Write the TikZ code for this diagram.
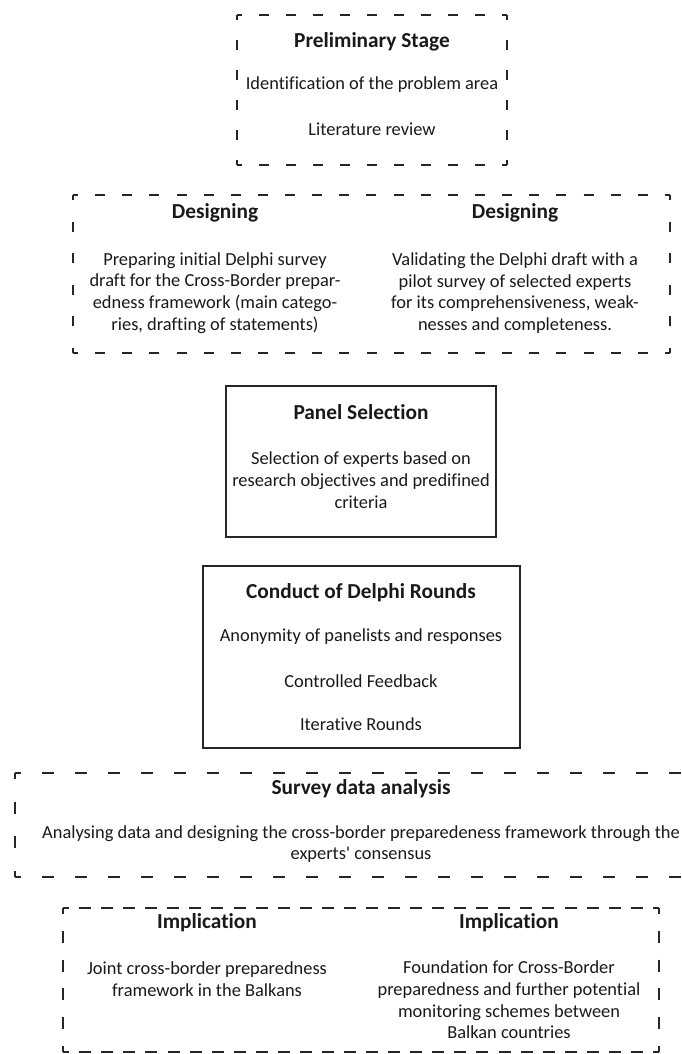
\documentclass[tikz,border=0pt]{standalone}
\usepackage{fontspec}
\setmainfont{Carlito}[Ligatures={TeXOff,NoCommon}]
\usetikzlibrary{positioning}

\begin{document}
\begin{tikzpicture}[x=0.75pt,y=-0.75pt,
    thin/.style={line width=0.8pt, color=black!85},
    thick/.style={line width=1.5pt, color=black!85},
    dashside/.style n args={3}{dash pattern=on #1 off #2, dash phase=#3},
    head/.style={font=\fontsize{16}{19}\selectfont\bfseries, text=black!90, inner sep=0pt},
    body/.style={font=\fontsize{13.8}{16.3}\selectfont, text=black!90, align=center, inner sep=0pt}]
    \useasboundingbox (0,0) rectangle (682,1054);

    % Preliminary stage
    \draw[thin, dashside={7.5pt}{12.75pt}{3.75pt}] (237,15) -- (507,15);
    \draw[thin, dashside={7.5pt}{15pt}{3.75pt}] (507,15) -- (507,165);
    \draw[thin, dashside={7.5pt}{12.75pt}{3.75pt}] (507,165) -- (237,165);
    \draw[thin, dashside={7.5pt}{15pt}{3.75pt}] (237,165) -- (237,15);
    \node[head] (prelimhead) at (372,42) {Preliminary Stage};
    \node[body] (prelimid) at (372,85) {Identification of the problem area};
    \node[body] (prelimlit) at (372,129) {Literature review};

    % Designing
    \draw[thin, dashside={7.5pt}{12.85pt}{3.75pt}] (73,195) -- (670,195);
    \draw[thin, dashside={7.5pt}{16.2pt}{3.75pt}] (670,195) -- (670,353);
    \draw[thin, dashside={7.5pt}{12.85pt}{3.75pt}] (670,353) -- (73,353);
    \draw[thin, dashside={7.5pt}{16.2pt}{3.75pt}] (73,353) -- (73,195);
    \node[head] (designhead1) at (215,213) {Designing};
    \node[head] (designhead2) at (515,213) {Designing};
    \node[body] (designtext1) at (215,293) {Preparing initial Delphi survey\\draft for the Cross-Border prepar-\\edness framework (main catego-\\ries, drafting of statements)};
    \node[body] (designtext2) at (515,293) {Validating the Delphi draft with a\\pilot survey of selected experts\\for its comprehensiveness, weak-\\nesses and completeness.};

    % Panel selection
    \draw[thin] (226,386) rectangle (496,537);
    \node[head] (panelhead) at (361,412) {Panel Selection};
    \node[body] (paneltext) at (361,480) {Selection of experts based on\\research objectives and predifined\\criteria};

    % Delphi rounds
    \draw[thin] (203,566) rectangle (520,748);
    \node[head] (roundshead) at (361,593) {Conduct of Delphi Rounds};
    \node[body] (roundsanon) at (361,637) {Anonymity of panelists and responses};
    \node[body] (roundsfeed) at (361,681) {Controlled Feedback};
    \node[body] (roundsiter) at (361,724) {Iterative Rounds};

    % Survey data analysis (right side runs off the page)
    \draw[thin, dashside={9pt}{15.75pt}{4.5pt}] (15,773) -- (682,773);
    \draw[thin, dashside={9pt}{17pt}{4.5pt}] (15,773) -- (15,877);
    \draw[thin, dashside={9pt}{15.75pt}{4.5pt}] (15,877) -- (682,877);
    \node[head] (surveyhead) at (361,789) {Survey data analysis};
    \node[body] (surveytext) at (361,844) {Analysing data and designing the cross-border preparedeness framework through the\\experts' consensus};

    % Implication
    \draw[thick, dashside={9pt}{7.55pt}{4.5pt}] (63,908) -- (659,908);
    \draw[thick, dashside={9pt}{12.6pt}{4.5pt}] (659,908) -- (659,1052);
    \draw[thick, dashside={9pt}{7.55pt}{4.5pt}] (659,1052) -- (63,1052);
    \draw[thick, dashside={9pt}{12.6pt}{4.5pt}] (63,1052) -- (63,908);
    \node[head] (implhead1) at (207,923) {Implication};
    \node[head] (implhead2) at (509,923) {Implication};
    \node[body] (impltext1) at (207,979) {Joint cross-border preparedness\\framework in the Balkans};
    \node[body] (impltext2) at (509,1000) {Foundation for Cross-Border\\preparedness and further potential\\monitoring schemes between\\Balkan countries};
\end{tikzpicture}
\end{document}
